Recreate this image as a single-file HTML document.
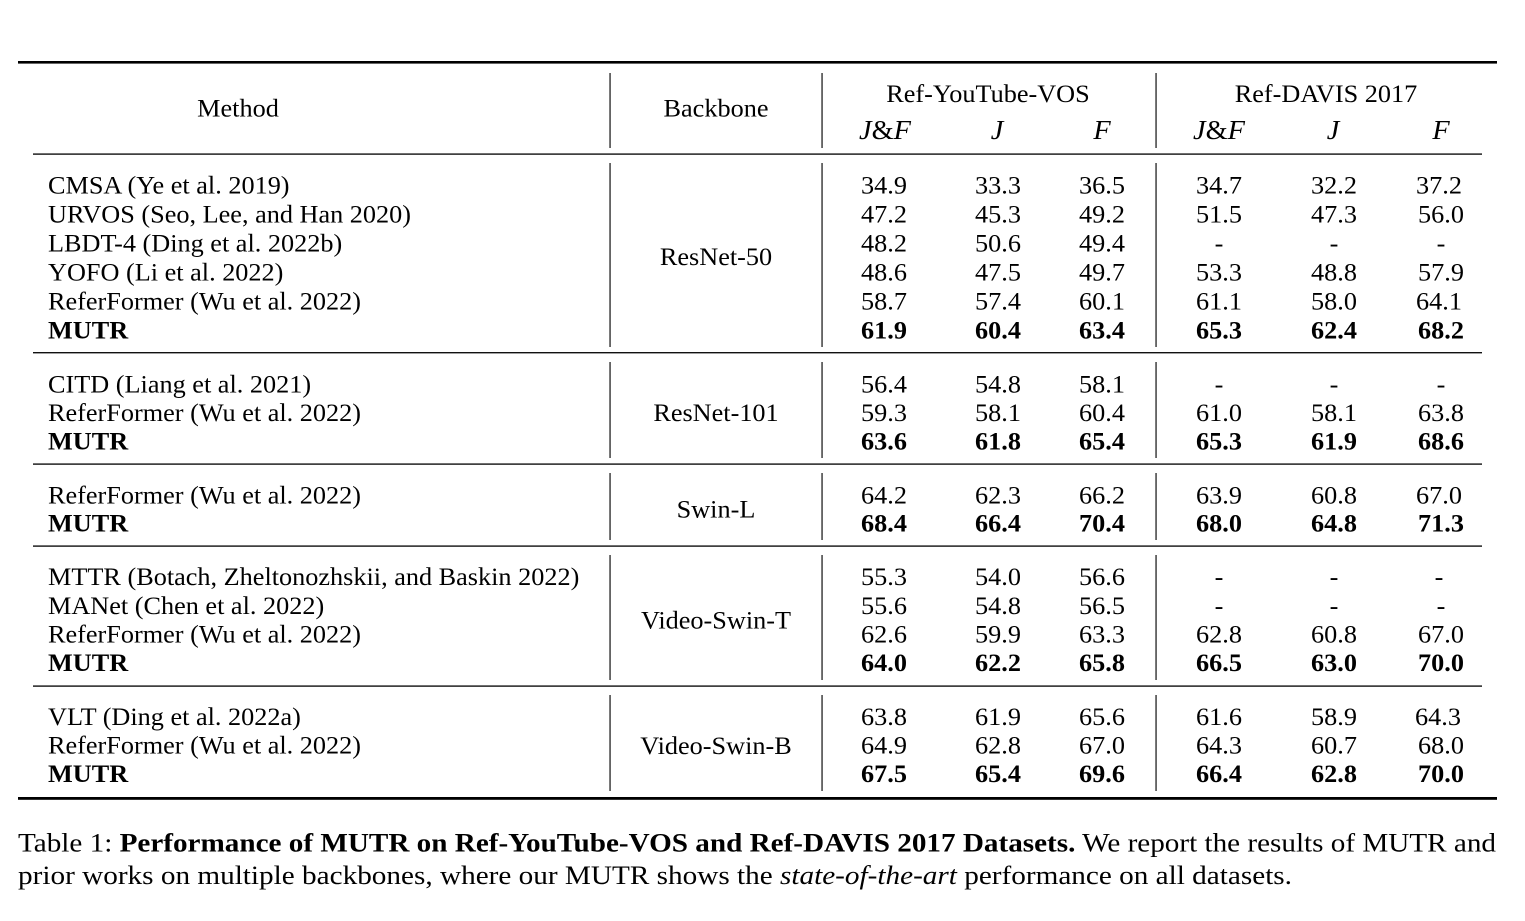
<!DOCTYPE html>
<html>
<head>
<meta charset="utf-8">
<style>
html,body{margin:0;padding:0;background:#fff;}
svg{display:block;}
text{font-family:"Liberation Serif","Times New Roman",serif;font-size:25px;fill:#000;}
.c{text-anchor:middle;}
.b{font-weight:bold;}
.i{font-style:italic;}
.h{font-size:27px;}
.cap{font-size:26px;}
</style>
</head>
<body>
<svg width="1525" height="921" viewBox="0 0 1525 921" xmlns="http://www.w3.org/2000/svg">
<rect width="1525" height="921" fill="#fff"/>

<!-- rules -->
<rect x="18" y="61" width="1479" height="2.6" fill="#000"/>
<rect x="33" y="153.4" width="1449" height="1.4" fill="#111"/>
<rect x="33" y="352" width="1449" height="1.4" fill="#111"/>
<rect x="33" y="463.4" width="1449" height="1.4" fill="#111"/>
<rect x="33" y="545.4" width="1449" height="1.4" fill="#111"/>
<rect x="33" y="685.4" width="1449" height="1.4" fill="#111"/>
<rect x="18" y="797" width="1479" height="2.8" fill="#000"/>

<!-- vertical lines -->
<g fill="#222">
<rect x="609.4" y="73" width="1.3" height="75"/>
<rect x="821.4" y="73" width="1.3" height="75"/>
<rect x="1155.4" y="73" width="1.3" height="75"/>
<rect x="609.4" y="163" width="1.3" height="184"/>
<rect x="821.4" y="163" width="1.3" height="184"/>
<rect x="1155.4" y="163" width="1.3" height="184"/>
<rect x="609.4" y="362" width="1.3" height="96"/>
<rect x="821.4" y="362" width="1.3" height="96"/>
<rect x="1155.4" y="362" width="1.3" height="96"/>
<rect x="609.4" y="473" width="1.3" height="67"/>
<rect x="821.4" y="473" width="1.3" height="67"/>
<rect x="1155.4" y="473" width="1.3" height="67"/>
<rect x="609.4" y="555" width="1.3" height="125"/>
<rect x="821.4" y="555" width="1.3" height="125"/>
<rect x="1155.4" y="555" width="1.3" height="125"/>
<rect x="609.4" y="695" width="1.3" height="96"/>
<rect x="821.4" y="695" width="1.3" height="96"/>
<rect x="1155.4" y="695" width="1.3" height="96"/>
</g>

<!-- header -->
<text class="c" transform="translate(238,116.5) scale(1.05,1)">Method</text>
<text class="c" transform="translate(716,116.5) scale(1.05,1)">Backbone</text>
<text class="c" transform="translate(988,102) scale(1.05,1)">Ref-YouTube-VOS</text>
<text class="c" transform="translate(1326,102) scale(1.05,1)">Ref-DAVIS 2017</text>
<text class="c h" transform="translate(885,139) scale(1.05,1)"><tspan class="i">J</tspan>&amp;<tspan class="i">F</tspan></text>
<text class="c i h" transform="translate(997,139) scale(1.05,1)">J</text>
<text class="c i h" transform="translate(1102,139) scale(1.05,1)">F</text>
<text class="c h" transform="translate(1219,139) scale(1.05,1)"><tspan class="i">J</tspan>&amp;<tspan class="i">F</tspan></text>
<text class="c i h" transform="translate(1333,139) scale(1.05,1)">J</text>
<text class="c i h" transform="translate(1441,139) scale(1.05,1)">F</text>

<!-- backbones -->
<text class="c" transform="translate(716,265) scale(1.05,1)">ResNet-50</text>
<text class="c" transform="translate(716,421) scale(1.05,1)">ResNet-101</text>
<text class="c" transform="translate(716,517.5) scale(1.05,1)">Swin-L</text>
<text class="c" transform="translate(716,628.5) scale(1.05,1)">Video-Swin-T</text>
<text class="c" transform="translate(716,754) scale(1.05,1)">Video-Swin-B</text>

<!-- Group 1 -->
<text transform="translate(48,193.5) scale(1.05,1)">CMSA (Ye et al. 2019)</text>
<text transform="translate(48,222.5) scale(1.05,1)">URVOS (Seo, Lee, and Han 2020)</text>
<text transform="translate(48,251.5) scale(1.05,1)">LBDT-4 (Ding et al. 2022b)</text>
<text transform="translate(48,280.5) scale(1.05,1)">YOFO (Li et al. 2022)</text>
<text transform="translate(48,309.5) scale(1.05,1)">ReferFormer (Wu et al. 2022)</text>
<text class="b" transform="translate(48,338.5) scale(1.05,1)">MUTR</text>

<text class="c" transform="translate(884,193.5) scale(1.05,1)">34.9</text>
<text class="c" transform="translate(998,193.5) scale(1.05,1)">33.3</text>
<text class="c" transform="translate(1102,193.5) scale(1.05,1)">36.5</text>
<text class="c" transform="translate(1219,193.5) scale(1.05,1)">34.7</text>
<text class="c" transform="translate(1334,193.5) scale(1.05,1)">32.2</text>
<text class="c" transform="translate(1439,193.5) scale(1.05,1)">37.2</text>

<text class="c" transform="translate(884,222.5) scale(1.05,1)">47.2</text>
<text class="c" transform="translate(998,222.5) scale(1.05,1)">45.3</text>
<text class="c" transform="translate(1102,222.5) scale(1.05,1)">49.2</text>
<text class="c" transform="translate(1219,222.5) scale(1.05,1)">51.5</text>
<text class="c" transform="translate(1334,222.5) scale(1.05,1)">47.3</text>
<text class="c" transform="translate(1441,222.5) scale(1.05,1)">56.0</text>

<text class="c" transform="translate(884,251.5) scale(1.05,1)">48.2</text>
<text class="c" transform="translate(998,251.5) scale(1.05,1)">50.6</text>
<text class="c" transform="translate(1102,251.5) scale(1.05,1)">49.4</text>
<text class="c" transform="translate(1219,251.5) scale(1.05,1)">-</text>
<text class="c" transform="translate(1334,251.5) scale(1.05,1)">-</text>
<text class="c" transform="translate(1441,251.5) scale(1.05,1)">-</text>

<text class="c" transform="translate(884,280.5) scale(1.05,1)">48.6</text>
<text class="c" transform="translate(998,280.5) scale(1.05,1)">47.5</text>
<text class="c" transform="translate(1102,280.5) scale(1.05,1)">49.7</text>
<text class="c" transform="translate(1219,280.5) scale(1.05,1)">53.3</text>
<text class="c" transform="translate(1334,280.5) scale(1.05,1)">48.8</text>
<text class="c" transform="translate(1441,280.5) scale(1.05,1)">57.9</text>

<text class="c" transform="translate(884,309.5) scale(1.05,1)">58.7</text>
<text class="c" transform="translate(998,309.5) scale(1.05,1)">57.4</text>
<text class="c" transform="translate(1102,309.5) scale(1.05,1)">60.1</text>
<text class="c" transform="translate(1219,309.5) scale(1.05,1)">61.1</text>
<text class="c" transform="translate(1334,309.5) scale(1.05,1)">58.0</text>
<text class="c" transform="translate(1439,309.5) scale(1.05,1)">64.1</text>

<text class="c b" transform="translate(884,338.5) scale(1.05,1)">61.9</text>
<text class="c b" transform="translate(998,338.5) scale(1.05,1)">60.4</text>
<text class="c b" transform="translate(1102,338.5) scale(1.05,1)">63.4</text>
<text class="c b" transform="translate(1219,338.5) scale(1.05,1)">65.3</text>
<text class="c b" transform="translate(1334,338.5) scale(1.05,1)">62.4</text>
<text class="c b" transform="translate(1441,338.5) scale(1.05,1)">68.2</text>

<!-- Group 2 -->
<text transform="translate(48,392.5) scale(1.05,1)">CITD (Liang et al. 2021)</text>
<text transform="translate(48,421) scale(1.05,1)">ReferFormer (Wu et al. 2022)</text>
<text class="b" transform="translate(48,449.5) scale(1.05,1)">MUTR</text>

<text class="c" transform="translate(884,392.5) scale(1.05,1)">56.4</text>
<text class="c" transform="translate(998,392.5) scale(1.05,1)">54.8</text>
<text class="c" transform="translate(1102,392.5) scale(1.05,1)">58.1</text>
<text class="c" transform="translate(1219,392.5) scale(1.05,1)">-</text>
<text class="c" transform="translate(1334,392.5) scale(1.05,1)">-</text>
<text class="c" transform="translate(1441,392.5) scale(1.05,1)">-</text>

<text class="c" transform="translate(884,421) scale(1.05,1)">59.3</text>
<text class="c" transform="translate(998,421) scale(1.05,1)">58.1</text>
<text class="c" transform="translate(1102,421) scale(1.05,1)">60.4</text>
<text class="c" transform="translate(1219,421) scale(1.05,1)">61.0</text>
<text class="c" transform="translate(1334,421) scale(1.05,1)">58.1</text>
<text class="c" transform="translate(1441,421) scale(1.05,1)">63.8</text>

<text class="c b" transform="translate(884,449.5) scale(1.05,1)">63.6</text>
<text class="c b" transform="translate(998,449.5) scale(1.05,1)">61.8</text>
<text class="c b" transform="translate(1102,449.5) scale(1.05,1)">65.4</text>
<text class="c b" transform="translate(1219,449.5) scale(1.05,1)">65.3</text>
<text class="c b" transform="translate(1334,449.5) scale(1.05,1)">61.9</text>
<text class="c b" transform="translate(1441,449.5) scale(1.05,1)">68.6</text>

<!-- Group 3 -->
<text transform="translate(48,503.5) scale(1.05,1)">ReferFormer (Wu et al. 2022)</text>
<text class="b" transform="translate(48,531.5) scale(1.05,1)">MUTR</text>

<text class="c" transform="translate(884,503.5) scale(1.05,1)">64.2</text>
<text class="c" transform="translate(998,503.5) scale(1.05,1)">62.3</text>
<text class="c" transform="translate(1102,503.5) scale(1.05,1)">66.2</text>
<text class="c" transform="translate(1219,503.5) scale(1.05,1)">63.9</text>
<text class="c" transform="translate(1334,503.5) scale(1.05,1)">60.8</text>
<text class="c" transform="translate(1439,503.5) scale(1.05,1)">67.0</text>

<text class="c b" transform="translate(884,531.5) scale(1.05,1)">68.4</text>
<text class="c b" transform="translate(998,531.5) scale(1.05,1)">66.4</text>
<text class="c b" transform="translate(1102,531.5) scale(1.05,1)">70.4</text>
<text class="c b" transform="translate(1219,531.5) scale(1.05,1)">68.0</text>
<text class="c b" transform="translate(1334,531.5) scale(1.05,1)">64.8</text>
<text class="c b" transform="translate(1441,531.5) scale(1.05,1)">71.3</text>

<!-- Group 4 -->
<text transform="translate(48,585) scale(1.05,1)">MTTR (Botach, Zheltonozhskii, and Baskin 2022)</text>
<text transform="translate(48,614) scale(1.05,1)">MANet (Chen et al. 2022)</text>
<text transform="translate(48,642.5) scale(1.05,1)">ReferFormer (Wu et al. 2022)</text>
<text class="b" transform="translate(48,671) scale(1.05,1)">MUTR</text>

<text class="c" transform="translate(884,585) scale(1.05,1)">55.3</text>
<text class="c" transform="translate(998,585) scale(1.05,1)">54.0</text>
<text class="c" transform="translate(1102,585) scale(1.05,1)">56.6</text>
<text class="c" transform="translate(1219,585) scale(1.05,1)">-</text>
<text class="c" transform="translate(1334,585) scale(1.05,1)">-</text>
<text class="c" transform="translate(1439,585) scale(1.05,1)">-</text>

<text class="c" transform="translate(884,614) scale(1.05,1)">55.6</text>
<text class="c" transform="translate(998,614) scale(1.05,1)">54.8</text>
<text class="c" transform="translate(1102,614) scale(1.05,1)">56.5</text>
<text class="c" transform="translate(1219,614) scale(1.05,1)">-</text>
<text class="c" transform="translate(1334,614) scale(1.05,1)">-</text>
<text class="c" transform="translate(1441,614) scale(1.05,1)">-</text>

<text class="c" transform="translate(884,642.5) scale(1.05,1)">62.6</text>
<text class="c" transform="translate(998,642.5) scale(1.05,1)">59.9</text>
<text class="c" transform="translate(1102,642.5) scale(1.05,1)">63.3</text>
<text class="c" transform="translate(1219,642.5) scale(1.05,1)">62.8</text>
<text class="c" transform="translate(1334,642.5) scale(1.05,1)">60.8</text>
<text class="c" transform="translate(1441,642.5) scale(1.05,1)">67.0</text>

<text class="c b" transform="translate(884,671) scale(1.05,1)">64.0</text>
<text class="c b" transform="translate(998,671) scale(1.05,1)">62.2</text>
<text class="c b" transform="translate(1102,671) scale(1.05,1)">65.8</text>
<text class="c b" transform="translate(1219,671) scale(1.05,1)">66.5</text>
<text class="c b" transform="translate(1334,671) scale(1.05,1)">63.0</text>
<text class="c b" transform="translate(1441,671) scale(1.05,1)">70.0</text>

<!-- Group 5 -->
<text transform="translate(48,725) scale(1.05,1)">VLT (Ding et al. 2022a)</text>
<text transform="translate(48,753.5) scale(1.05,1)">ReferFormer (Wu et al. 2022)</text>
<text class="b" transform="translate(48,782) scale(1.05,1)">MUTR</text>

<text class="c" transform="translate(884,725) scale(1.05,1)">63.8</text>
<text class="c" transform="translate(998,725) scale(1.05,1)">61.9</text>
<text class="c" transform="translate(1102,725) scale(1.05,1)">65.6</text>
<text class="c" transform="translate(1219,725) scale(1.05,1)">61.6</text>
<text class="c" transform="translate(1334,725) scale(1.05,1)">58.9</text>
<text class="c" transform="translate(1438,725) scale(1.05,1)">64.3</text>

<text class="c" transform="translate(884,753.5) scale(1.05,1)">64.9</text>
<text class="c" transform="translate(998,753.5) scale(1.05,1)">62.8</text>
<text class="c" transform="translate(1102,753.5) scale(1.05,1)">67.0</text>
<text class="c" transform="translate(1219,753.5) scale(1.05,1)">64.3</text>
<text class="c" transform="translate(1334,753.5) scale(1.05,1)">60.7</text>
<text class="c" transform="translate(1441,753.5) scale(1.05,1)">68.0</text>

<text class="c b" transform="translate(884,782) scale(1.05,1)">67.5</text>
<text class="c b" transform="translate(998,782) scale(1.05,1)">65.4</text>
<text class="c b" transform="translate(1102,782) scale(1.05,1)">69.6</text>
<text class="c b" transform="translate(1219,782) scale(1.05,1)">66.4</text>
<text class="c b" transform="translate(1334,782) scale(1.05,1)">62.8</text>
<text class="c b" transform="translate(1441,782) scale(1.05,1)">70.0</text>

<!-- caption -->
<text class="cap" x="18" y="851.5" textLength="1478" lengthAdjust="spacingAndGlyphs">Table 1: <tspan class="b">Performance of MUTR on Ref-YouTube-VOS and Ref-DAVIS 2017 Datasets.</tspan> We report the results of MUTR and</text>
<text class="cap" x="18" y="884" textLength="1274" lengthAdjust="spacingAndGlyphs">prior works on multiple backbones, where our MUTR shows the <tspan class="i">state-of-the-art</tspan> performance on all datasets.</text>
</svg>
</body>
</html>
